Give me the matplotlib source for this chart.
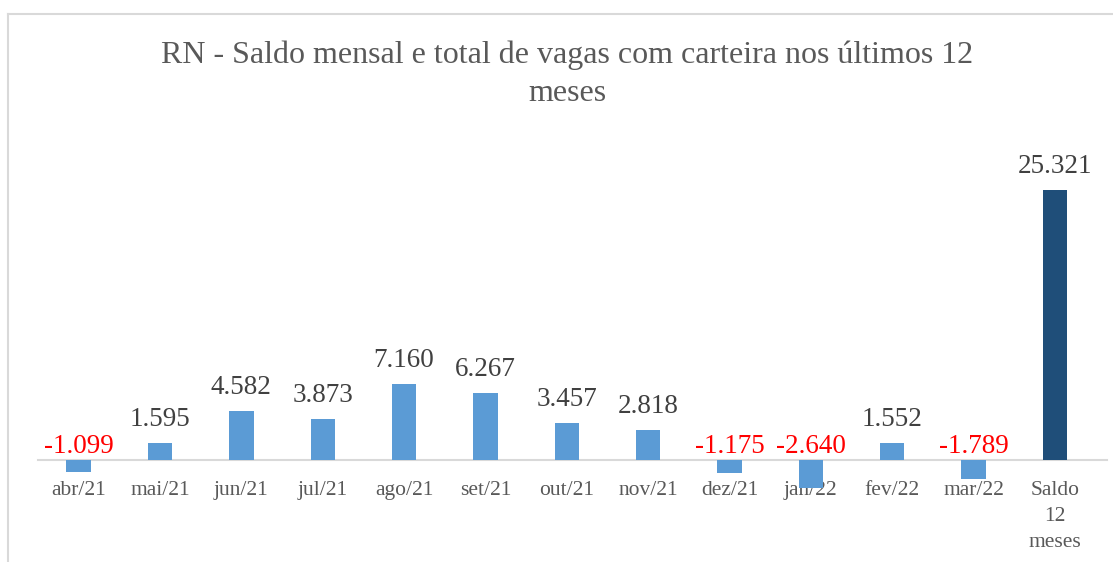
import matplotlib.pyplot as plt
from matplotlib.lines import Line2D

# dados
meses = ["abr/21", "mai/21", "jun/21", "jul/21", "ago/21", "set/21", "out/21",
         "nov/21", "dez/21", "jan/22", "fev/22", "mar/22", "Saldo\n12\nmeses"]
saldo = [-1099, 1595, 4582, 3873, 7160, 6267, 3457, 2818, -1175, -2640, 1552, -1789, 25321]
rotulos = ["-1.099", "1.595", "4.582", "3.873", "7.160", "6.267", "3.457",
           "2.818", "-1.175", "-2.640", "1.552", "-1.789", "25.321"]

plt.rcParams['font.family'] = ['Liberation Serif', 'DejaVu Serif']

W, H = 1113, 562
fig = plt.figure(figsize=(W / 100, H / 100), dpi=100)

# eixo: zero em y=460px, 25321 em y=190px
px_per_unit = (460 - 190) / 25321
ax_bottom_px, ax_top_px = 545, 150
ymin = -(ax_bottom_px - 460) / px_per_unit
ymax = (460 - ax_top_px) / px_per_unit
left_px, right_px = 38, 1107
ax = fig.add_axes([left_px / W, 1 - ax_bottom_px / H, (right_px - left_px) / W, (ax_bottom_px - ax_top_px) / H])
ax.set_ylim(ymin, ymax)
ax.set_xlim(-0.5, 12.64)

for s in ["top", "right", "left"]:
    ax.spines[s].set_visible(False)
ax.spines["bottom"].set_position(("data", 0))
ax.spines["bottom"].set_color("#D9D9D9")
ax.spines["bottom"].set_linewidth(1.5)
ax.spines["bottom"].set_zorder(1)
ax.patch.set_visible(False)

cores = ["#5B9BD5"] * (len(saldo) - 1) + ["#1F4E79"]
x = list(range(len(saldo)))
ax.bar(x, saldo, width=0.3, color=cores, zorder=2)

for i, v in enumerate(saldo):
    if v < 0:
        ax.annotate(rotulos[i], (i, 0), xytext=(0, 0.5), textcoords="offset points",
                    ha="center", va="bottom", color="#FF0000", fontsize=19.5)
    else:
        ax.annotate(rotulos[i], (i, v), xytext=(0, 8), textcoords="offset points",
                    ha="center", va="bottom", color="#404040", fontsize=19.5)

ax.set_xticks(x)
ax.set_xticklabels(meses, fontsize=15.5, color="#595959", linespacing=1.5)
ax.tick_params(axis="x", length=0, pad=15)
ax.set_yticks([])

fig.text(567 / W, 1 - 41 / H, "RN - Saldo mensal e total de vagas com carteira nos últimos 12\nmeses",
         ha="center", va="top", fontsize=23, color="#595959", linespacing=1.4)

# moldura do grafico (so topo e esquerda aparecem)
fig.add_artist(Line2D([8 / W, 1], [1 - 14 / H, 1 - 14 / H], color="#D9D9D9", lw=1.5))
fig.add_artist(Line2D([8 / W, 8 / W], [0, 1 - 14 / H], color="#D9D9D9", lw=1.5))

fig.savefig("out.png", dpi=100)
